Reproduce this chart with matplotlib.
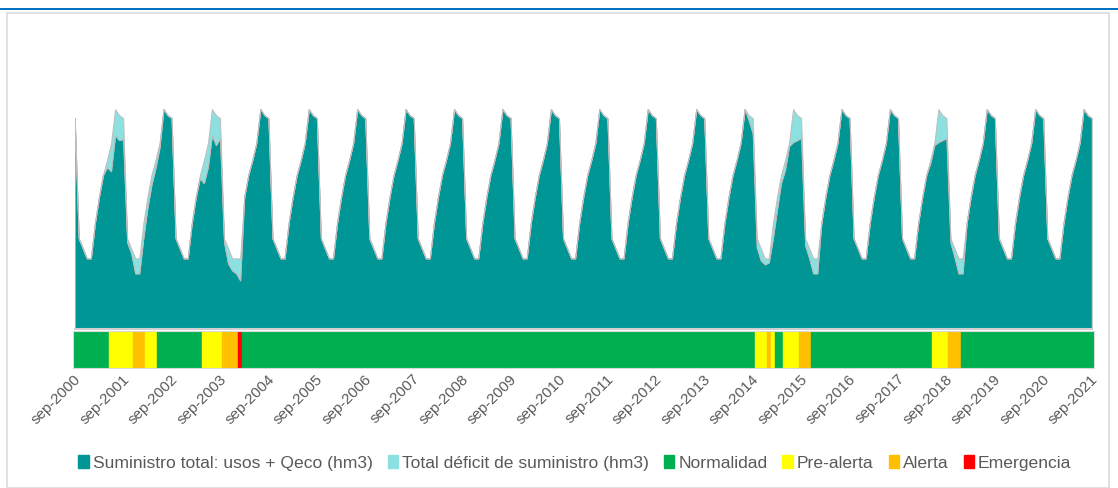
import matplotlib.pyplot as plt
from matplotlib.patches import Patch, Rectangle
from matplotlib.lines import Line2D
import matplotlib.transforms as mtransforms

plt.rcParams['font.family'] = ['Liberation Sans', 'DejaVu Sans']

# one row per hydrological year, sep..aug (hm3); last value is sep-2021
total = [
    [21.0, 9.0, 8.0, 7.0, 7.0, 10.5, 13.1, 15.3, 16.8, 18.5, 21.9, 21.3],  # 2000-01
    [21.0, 9.0, 8.0, 7.0, 7.0, 10.5, 13.1, 15.3, 16.8, 18.5, 21.9, 21.3],  # 2001-02
    [21.0, 9.0, 8.0, 7.0, 7.0, 10.5, 13.1, 15.3, 16.8, 18.5, 21.9, 21.3],  # 2002-03
    [21.0, 9.0, 8.0, 7.0, 7.0, 7.0, 13.1, 15.3, 16.8, 18.5, 21.9, 21.3],   # 2003-04
    [21.0, 9.0, 8.0, 7.0, 7.0, 10.5, 13.1, 15.3, 16.8, 18.5, 21.9, 21.3],  # 2004-05
    [21.0, 9.0, 8.0, 7.0, 7.0, 10.5, 13.1, 15.3, 16.8, 18.5, 21.9, 21.3],  # 2005-06
    [21.0, 9.0, 8.0, 7.0, 7.0, 10.5, 13.1, 15.3, 16.8, 18.5, 21.9, 21.3],  # 2006-07
    [21.0, 9.0, 8.0, 7.0, 7.0, 10.5, 13.1, 15.3, 16.8, 18.5, 21.9, 21.3],  # 2007-08
    [21.0, 9.0, 8.0, 7.0, 7.0, 10.5, 13.1, 15.3, 16.8, 18.5, 21.9, 21.3],  # 2008-09
    [21.0, 9.0, 8.0, 7.0, 7.0, 10.5, 13.1, 15.3, 16.8, 18.5, 21.9, 21.3],  # 2009-10
    [21.0, 9.0, 8.0, 7.0, 7.0, 10.5, 13.1, 15.3, 16.8, 18.5, 21.9, 21.3],  # 2010-11
    [21.0, 9.0, 8.0, 7.0, 7.0, 10.5, 13.1, 15.3, 16.8, 18.5, 21.9, 21.3],  # 2011-12
    [21.0, 9.0, 8.0, 7.0, 7.0, 10.5, 13.1, 15.3, 16.8, 18.5, 21.9, 21.3],  # 2012-13
    [21.0, 9.0, 8.0, 7.0, 7.0, 10.5, 13.1, 15.3, 16.8, 18.5, 21.9, 21.3],  # 2013-14
    [21.0, 9.0, 8.0, 7.0, 7.0, 10.5, 13.1, 15.3, 16.8, 18.5, 21.9, 21.3],  # 2014-15
    [21.0, 9.0, 8.0, 7.0, 7.0, 10.5, 13.1, 15.3, 16.8, 18.5, 21.9, 21.3],  # 2015-16
    [21.0, 9.0, 8.0, 7.0, 7.0, 10.5, 13.1, 15.3, 16.8, 18.5, 21.9, 21.3],  # 2016-17
    [21.0, 9.0, 8.0, 7.0, 7.0, 10.5, 13.1, 15.3, 16.8, 18.5, 21.9, 21.3],  # 2017-18
    [21.0, 9.0, 8.0, 7.0, 7.0, 10.5, 13.1, 15.3, 16.8, 18.5, 21.9, 21.3],  # 2018-19
    [21.0, 9.0, 8.0, 7.0, 7.0, 10.5, 13.1, 15.3, 16.8, 18.5, 21.9, 21.3],  # 2019-20
    [21.0, 9.0, 8.0, 7.0, 7.0, 10.5, 13.1, 15.3, 16.8, 18.5, 21.9, 21.3],  # 2020-21
    [21.0],
]
suministro = [
    [21.0, 9.0, 8.0, 7.0, 7.0, 10.5, 13.1, 15.3, 16.1, 15.7, 19.3, 18.8],  # 2000-01
    [18.9, 8.6, 7.5, 5.5, 5.5, 9.0, 12.0, 14.3, 16.0, 18.0, 21.9, 21.3],   # 2001-02
    [21.0, 9.0, 8.0, 7.0, 7.0, 10.5, 13.1, 15.0, 14.5, 16.1, 19.3, 18.3],  # 2002-03
    [19.0, 8.6, 6.5, 5.8, 5.5, 4.8, 13.1, 15.3, 16.8, 18.5, 21.9, 21.3],   # 2003-04
    [21.0, 9.0, 8.0, 7.0, 7.0, 10.5, 13.1, 15.3, 16.8, 18.5, 21.9, 21.3],  # 2004-05
    [21.0, 9.0, 8.0, 7.0, 7.0, 10.5, 13.1, 15.3, 16.8, 18.5, 21.9, 21.3],  # 2005-06
    [21.0, 9.0, 8.0, 7.0, 7.0, 10.5, 13.1, 15.3, 16.8, 18.5, 21.9, 21.3],  # 2006-07
    [21.0, 9.0, 8.0, 7.0, 7.0, 10.5, 13.1, 15.3, 16.8, 18.5, 21.9, 21.3],  # 2007-08
    [21.0, 9.0, 8.0, 7.0, 7.0, 10.5, 13.1, 15.3, 16.8, 18.5, 21.9, 21.3],  # 2008-09
    [21.0, 9.0, 8.0, 7.0, 7.0, 10.5, 13.1, 15.3, 16.8, 18.5, 21.9, 21.3],  # 2009-10
    [21.0, 9.0, 8.0, 7.0, 7.0, 10.5, 13.1, 15.3, 16.8, 18.5, 21.9, 21.3],  # 2010-11
    [21.0, 9.0, 8.0, 7.0, 7.0, 10.5, 13.1, 15.3, 16.8, 18.5, 21.9, 21.3],  # 2011-12
    [21.0, 9.0, 8.0, 7.0, 7.0, 10.5, 13.1, 15.3, 16.8, 18.5, 21.9, 21.3],  # 2012-13
    [21.0, 9.0, 8.0, 7.0, 7.0, 10.5, 13.1, 15.3, 16.8, 18.5, 21.9, 20.8],  # 2013-14
    [19.5, 8.1, 6.8, 6.4, 6.6, 9.0, 11.8, 14.5, 15.8, 18.2, 18.6, 18.8],   # 2014-15
    [19.0, 8.3, 7.0, 5.5, 5.5, 10.5, 13.1, 15.3, 16.8, 18.5, 21.9, 21.3],  # 2015-16
    [21.0, 9.0, 8.0, 7.0, 7.0, 10.5, 13.1, 15.3, 16.8, 18.5, 21.9, 21.3],  # 2016-17
    [21.0, 9.0, 8.0, 7.0, 7.0, 10.5, 13.1, 15.3, 16.5, 18.3, 18.6, 18.8],  # 2017-18
    [19.0, 8.6, 7.1, 5.5, 5.5, 10.5, 13.1, 15.3, 16.8, 18.5, 21.9, 21.3],  # 2018-19
    [21.0, 9.0, 8.0, 7.0, 7.0, 10.5, 13.1, 15.3, 16.8, 18.5, 21.9, 21.3],  # 2019-20
    [21.0, 9.0, 8.0, 7.0, 7.0, 10.5, 13.1, 15.3, 16.8, 18.5, 21.9, 21.3],  # 2020-21
    [21.0],
]

# drought status, as (state, number of months) from sep-2000
estado = [
    ("Normalidad", 9), ("Pre-alerta", 6), ("Alerta", 3), ("Pre-alerta", 3),
    ("Normalidad", 11), ("Pre-alerta", 5), ("Alerta", 4), ("Emergencia", 1),
    ("Normalidad", 127), ("Pre-alerta", 3), ("Alerta", 1), ("Pre-alerta", 1),
    ("Normalidad", 2), ("Pre-alerta", 4), ("Alerta", 3), ("Normalidad", 30),
    ("Pre-alerta", 4), ("Alerta", 3), ("Normalidad", 33),
]
anios = list(range(2000, 2022))

colores_estado = {"Normalidad": "#00B050", "Pre-alerta": "#FFFF00",
                  "Alerta": "#FFC000", "Emergencia": "#FF0000"}
c_sum = "#009696"
c_def = "#8DE0E0"
gris = "#595959"

sum_m = [v for fila in suministro for v in fila]
tot_m = [v for fila in total for v in fila]
def_m = [t - s for t, s in zip(tot_m, sum_m)]
meses = list(range(len(sum_m)))

estado_m = []
for nombre, n in estado:
    estado_m += [nombre] * n

W, H = 1118, 488
fig = plt.figure(figsize=(W / 100, H / 100), dpi=100)

def px_axes(x0, y0, x1, y1):
    return fig.add_axes([x0 / W, 1 - y1 / H, (x1 - x0) / W, (y1 - y0) / H])

# frame and top rule
fig.add_artist(Line2D([0, 1], [1 - 8.7 / H] * 2, color="#0070C0", lw=1.4))
fig.add_artist(Rectangle((6.5 / W, 0), (1109 - 6.5) / W, 1 - 13 / H,
                         fill=False, ec="#D9D9D9", lw=1.1))

ax = px_axes(74.7, 58, 1091.7, 328.5)
ax.stackplot(meses, sum_m, def_m, colors=[c_sum, c_def],
             edgecolor="#BDBDBD", linewidth=0.7)
ax.set_xlim(0, len(meses) - 1)
ax.set_ylim(0, 27)
ax.set_xticks([])
ax.set_yticks([])
for s in ["top", "left", "right"]:
    ax.spines[s].set_visible(False)
ax.spines["bottom"].set_color("#D0D0D0")
ax.spines["bottom"].set_linewidth(1.5)

axb = px_axes(72.7, 331, 1093.7, 367.7)
axb.bar(meses, 1, width=1.0, color=[colores_estado[e] for e in estado_m],
        edgecolor=[colores_estado[e] for e in estado_m], linewidth=0.3)
axb.set_xlim(-0.5, len(meses) - 0.5)
axb.set_ylim(0, 1)
axb.set_yticks([])
for s in axb.spines.values():
    s.set_color("#D9D9D9")
    s.set_linewidth(0.8)
axb.set_xticks(meses[::12])
axb.set_xticklabels([f"sep-{a}" for a in anios], rotation=45, ha="right",
                    rotation_mode="anchor", color=gris, fontsize=11)
axb.tick_params(axis="x", length=0, pad=3)
desplaza = mtransforms.ScaledTranslation(-1 / 100, 0, fig.dpi_scale_trans)
for lab in axb.get_xticklabels():
    lab.set_transform(lab.get_transform() + desplaza)

handles = [Patch(color=c_sum), Patch(color=c_def)] + \
          [Patch(color=colores_estado[k]) for k in colores_estado]
labels = ["Suministro total: usos + Qeco (hm3)", "Total déficit de suministro (hm3)",
          "Normalidad", "Pre-alerta", "Alerta", "Emergencia"]
fig.legend(handles, labels, loc="center", bbox_to_anchor=(574.8 / W, 1 - 463 / H),
           ncol=6, frameon=False, fontsize=12.6, labelcolor=gris,
           handlelength=0.6, handleheight=0.7, handletextpad=0.23,
           columnspacing=0.85)

fig.savefig("out.png", dpi=100)
